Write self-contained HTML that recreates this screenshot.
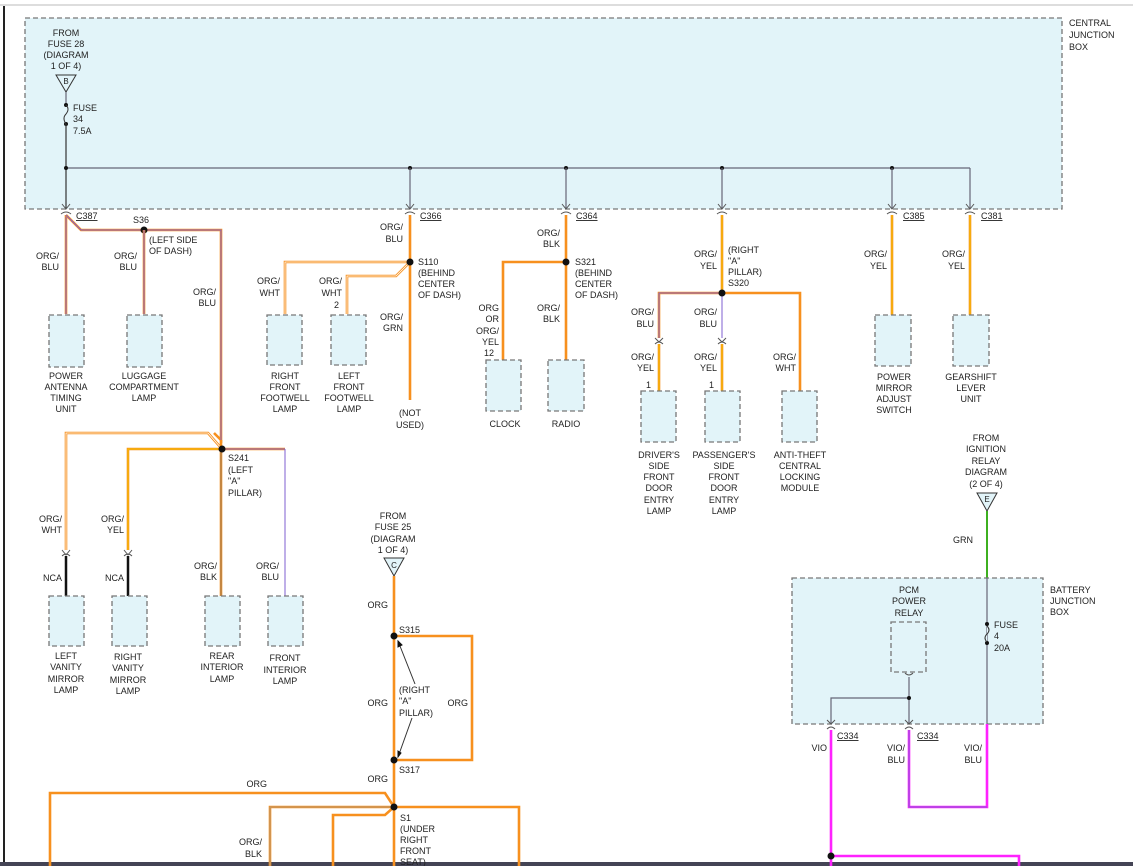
<!DOCTYPE html>
<html><head><meta charset="utf-8"><style>
html,body{margin:0;padding:0;background:#fff;}
svg{display:block;font-family:"Liberation Sans",sans-serif;font-size:9px;}
text{fill:#222;}
.bx{fill:#e2f4f9;stroke:#777;stroke-width:1.3;stroke-dasharray:5,3;}
.o{stroke:#f7901e;stroke-width:2.6;fill:none;}
.y{stroke:#f5c400;stroke-width:1;fill:none;}
.b{stroke:#7f5fd0;stroke-width:1;fill:none;}
.w{stroke:#fff;stroke-width:0.8;fill:none;}
.g{stroke:#667;stroke-width:1.2;fill:none;}
.k{stroke:#111;stroke-width:2.5;fill:none;}
.m{stroke:#ff22ff;stroke-width:2.6;fill:none;}
.c{stroke:#555;stroke-width:1;fill:none;}
</style></head><body>
<svg width="1133" height="866" viewBox="0 0 1133 866">
<line x1="0" y1="5" x2="1133" y2="5" stroke="#ddd" stroke-width="2"/>
<line x1="4" y1="6" x2="4" y2="866" stroke="#222" stroke-width="2"/>
<rect x="0" y="862" width="1133" height="4" fill="#445"/>

<rect class="bx" x="25" y="18" width="1037" height="191"/>
<text x="1069" y="26">CENTRAL</text><text x="1069" y="38">JUNCTION</text><text x="1069" y="50">BOX</text>
<g text-anchor="middle"><text x="66" y="36">FROM</text><text x="66" y="47">FUSE 28</text><text x="66" y="58">(DIAGRAM</text><text x="66" y="69">1 OF 4)</text></g>
<polygon points="56,75 76,75 66,92" fill="#e2f4f9" stroke="#333"/><text x="66" y="84" text-anchor="middle" font-size="8">B</text>
<line class="g" x1="66" y1="92" x2="66" y2="105"/>
<circle cx="66" cy="105" r="2" fill="#111"/><circle cx="66" cy="124" r="2" fill="#111"/>
<path d="M66,105 q4,4 0,9 q-4,4 0,10" stroke="#333" fill="none"/>
<text x="73" y="111">FUSE</text><text x="73" y="122">34</text><text x="73" y="134">7.5A</text>
<line x1="66" y1="124" x2="66" y2="208" stroke="#333" stroke-width="1.2"/>
<line class="g" x1="66" y1="168" x2="970" y2="168"/>
<g fill="#111"><circle cx="66" cy="168" r="2"/><circle cx="410" cy="168" r="2"/><circle cx="566" cy="168" r="2"/><circle cx="722" cy="168" r="2"/><circle cx="892" cy="168" r="2"/></g>
<g class="g"><path d="M410,168V208M566,168V208M722,168V208M892,168V208M970,168V208"/></g>
<g class="c">
<path d="M62,204l4,5l4,-5M406,204l4,5l4,-5M562,204l4,5l4,-5M718,204l4,5l4,-5M888,204l4,5l4,-5M966,204l4,5l4,-5"/>
<path d="M61,214q5,-4 10,0M405,214q5,-4 10,0M561,214q5,-4 10,0M717,214q5,-4 10,0M887,214q5,-4 10,0M965,214q5,-4 10,0"/>
</g>
<text x="76" y="219" text-decoration="underline">C387</text>
<text x="420" y="219" text-decoration="underline">C366</text>
<text x="576" y="219" text-decoration="underline">C364</text>
<text x="903" y="219" text-decoration="underline">C385</text>
<text x="981" y="219" text-decoration="underline">C381</text>

<path class="o" d="M66,215V314"/><path class="b" d="M66,215V314"/>
<path class="o" d="M66,215L81,230H221V440L214,433"/>
<path class="b" d="M66,215L81,230H221V440"/>
<circle cx="144" cy="230" r="3.5" fill="#111"/>
<text x="133" y="223">S36</text>
<text x="149" y="243">(LEFT SIDE</text><text x="149" y="254">OF DASH)</text>
<path class="o" d="M144,230V314"/><path class="b" d="M144,230V314"/>
<g text-anchor="end"><text x="59" y="259">ORG/</text><text x="59" y="270">BLU</text>
<text x="137" y="259">ORG/</text><text x="137" y="270">BLU</text>
<text x="216" y="295">ORG/</text><text x="216" y="306">BLU</text></g>
<rect class="bx" x="49" y="315" width="35" height="52"/>
<rect class="bx" x="127" y="315" width="35" height="52"/>
<g text-anchor="middle"><text x="66" y="379">POWER</text><text x="66" y="390">ANTENNA</text><text x="66" y="401">TIMING</text><text x="66" y="412">UNIT</text>
<text x="144" y="379">LUGGAGE</text><text x="144" y="390">COMPARTMENT</text><text x="144" y="401">LAMP</text></g>

<path class="o" d="M221,440V596"/><path stroke="#777" stroke-width="0.8" fill="none" d="M221,450V596"/>
<path class="o" d="M222,449L208,433H66V550"/><path class="w" d="M222,449L208,433H66V550"/>
<path class="o" d="M222,449H128V550"/><path class="y" d="M222,449H128V550"/>
<path class="o" d="M222,449H285"/><path class="b" stroke-width="2.6" d="M285,449V596"/><path class="b" d="M222,449H285"/>
<circle cx="222" cy="449" r="3.5" fill="#111"/>
<text x="228" y="461">S241</text><text x="228" y="473">(LEFT</text><text x="228" y="484">"A"</text><text x="228" y="496">PILLAR)</text>
<g class="c"><path d="M62,550l4,5l4,-5M62,556q4,-4 8,0M124,550l4,5l4,-5M124,556q4,-4 8,0"/></g>
<path class="k" d="M66,556V596M128,556V596"/>
<g text-anchor="end"><text x="62" y="522">ORG/</text><text x="62" y="533">WHT</text>
<text x="124" y="522">ORG/</text><text x="124" y="533">YEL</text>
<text x="62" y="581">NCA</text><text x="124" y="581">NCA</text>
<text x="217" y="569">ORG/</text><text x="217" y="580">BLK</text>
<text x="279" y="569">ORG/</text><text x="279" y="580">BLU</text></g>
<rect class="bx" x="49" y="596" width="35" height="50"/>
<rect class="bx" x="112" y="596" width="35" height="50"/>
<rect class="bx" x="205" y="596" width="35" height="50"/>
<rect class="bx" x="268" y="596" width="35" height="50"/>
<g text-anchor="middle">
<text x="66" y="659">LEFT</text><text x="66" y="670">VANITY</text><text x="66" y="682">MIRROR</text><text x="66" y="693">LAMP</text>
<text x="128" y="660">RIGHT</text><text x="128" y="671">VANITY</text><text x="128" y="683">MIRROR</text><text x="128" y="694">LAMP</text>
<text x="222" y="659">REAR</text><text x="222" y="670">INTERIOR</text><text x="222" y="682">LAMP</text>
<text x="285" y="661">FRONT</text><text x="285" y="673">INTERIOR</text><text x="285" y="684">LAMP</text></g>

<path class="o" stroke="#9b7fd8" stroke-width="2" d="M410,215V262"/>
<path class="o" d="M410,262H285V314"/><path class="w" d="M410,262H285V314"/>
<path class="o" d="M410,262L396,276H347V314"/><path class="w" d="M410,262L396,276H347V314"/>
<path class="o" stroke="#9bb84a" stroke-width="2" d="M410,262V400"/>
<circle cx="410" cy="262" r="3.5" fill="#111"/>
<text x="418" y="265">S110</text><text x="418" y="276">(BEHIND</text><text x="418" y="287">CENTER</text><text x="418" y="298">OF DASH)</text>
<g text-anchor="end"><text x="403" y="230">ORG/</text><text x="403" y="242">BLU</text>
<text x="280" y="284">ORG/</text><text x="280" y="296">WHT</text>
<text x="342" y="284">ORG/</text><text x="342" y="296">WHT</text><text x="339" y="308">2</text>
<text x="403" y="320">ORG/</text><text x="403" y="331">GRN</text></g>
<rect class="bx" x="267" y="315" width="35" height="50"/>
<rect class="bx" x="331" y="315" width="35" height="50"/>
<g text-anchor="middle">
<text x="285" y="379">RIGHT</text><text x="285" y="390">FRONT</text><text x="285" y="401">FOOTWELL</text><text x="285" y="412">LAMP</text>
<text x="349" y="379">LEFT</text><text x="349" y="390">FRONT</text><text x="349" y="401">FOOTWELL</text><text x="349" y="412">LAMP</text>
<text x="410" y="416">(NOT</text><text x="410" y="428">USED)</text></g>

<path class="o" stroke="#a07040" stroke-width="2" d="M566,215V262"/>
<path class="o" d="M566,262H503V360"/>
<path class="o" stroke="#c96a3a" d="M566,262V360"/>
<circle cx="566" cy="262" r="3.5" fill="#111"/>
<text x="575" y="265">S321</text><text x="575" y="276">(BEHIND</text><text x="575" y="287">CENTER</text><text x="575" y="298">OF DASH)</text>
<g text-anchor="end"><text x="560" y="236">ORG/</text><text x="560" y="247">BLK</text>
<text x="499" y="311">ORG</text><text x="499" y="322">OR</text><text x="499" y="334">ORG/</text><text x="499" y="345">YEL</text><text x="494" y="356">12</text>
<text x="560" y="311">ORG/</text><text x="560" y="322">BLK</text></g>
<rect class="bx" x="486" y="360" width="35" height="51"/>
<rect class="bx" x="548" y="360" width="36" height="51"/>
<text x="505" y="427" text-anchor="middle">CLOCK</text><text x="566" y="427" text-anchor="middle">RADIO</text>

<path class="o" d="M722,215V293"/><path class="y" d="M722,215V293"/>
<path class="o" d="M722,293H659V338"/><path class="b" d="M722,293H659V338"/>
<path class="b" stroke-width="2.6" d="M722,293V338"/>
<path class="o" d="M722,293H800V391"/>
<g class="c"><path d="M655,338l4,4l4,-4M655,344q4,-4 8,0M718,338l4,4l4,-4M718,344q4,-4 8,0"/></g>
<path class="o" d="M659,344V391M722,344V391"/><path class="y" d="M659,344V391M722,344V391"/>
<circle cx="722" cy="293" r="3.5" fill="#111"/>
<text x="728" y="253">(RIGHT</text><text x="728" y="264">"A"</text><text x="728" y="275">PILLAR)</text><text x="728" y="286">S320</text>
<g text-anchor="end"><text x="717" y="257">ORG/</text><text x="717" y="269">YEL</text>
<text x="654" y="315">ORG/</text><text x="654" y="327">BLU</text>
<text x="717" y="315">ORG/</text><text x="717" y="327">BLU</text>
<text x="654" y="360">ORG/</text><text x="654" y="371">YEL</text>
<text x="717" y="360">ORG/</text><text x="717" y="371">YEL</text>
<text x="796" y="360">ORG/</text><text x="796" y="371">WHT</text>
<text x="651" y="388">1</text><text x="714" y="388">1</text></g>
<rect class="bx" x="641" y="391" width="35" height="51"/>
<rect class="bx" x="705" y="391" width="35" height="51"/>
<rect class="bx" x="782" y="391" width="35" height="51"/>
<g text-anchor="middle">
<text x="659" y="458">DRIVER'S</text><text x="659" y="469">SIDE</text><text x="659" y="480">FRONT</text><text x="659" y="491">DOOR</text><text x="659" y="503">ENTRY</text><text x="659" y="514">LAMP</text>
<text x="724" y="458">PASSENGER'S</text><text x="724" y="469">SIDE</text><text x="724" y="480">FRONT</text><text x="724" y="491">DOOR</text><text x="724" y="503">ENTRY</text><text x="724" y="514">LAMP</text>
<text x="800" y="458">ANTI-THEFT</text><text x="800" y="469">CENTRAL</text><text x="800" y="480">LOCKING</text><text x="800" y="491">MODULE</text></g>

<path class="o" d="M892,215V315M970,215V315"/><path class="y" d="M892,215V315M970,215V315"/>
<g text-anchor="end"><text x="887" y="257">ORG/</text><text x="887" y="269">YEL</text>
<text x="965" y="257">ORG/</text><text x="965" y="269">YEL</text></g>
<rect class="bx" x="875" y="315" width="36" height="51"/>
<rect class="bx" x="953" y="315" width="36" height="51"/>
<g text-anchor="middle">
<text x="894" y="380">POWER</text><text x="894" y="391">MIRROR</text><text x="894" y="402">ADJUST</text><text x="894" y="413">SWITCH</text>
<text x="971" y="380">GEARSHIFT</text><text x="971" y="391">LEVER</text><text x="971" y="402">UNIT</text>
<text x="986" y="441">FROM</text><text x="986" y="452">IGNITION</text><text x="986" y="464">RELAY</text><text x="986" y="475">DIAGRAM</text><text x="986" y="487">(2 OF 4)</text></g>
<polygon points="977,493 997,493 987,511" fill="#e2f4f9" stroke="#333"/><text x="987" y="502" text-anchor="middle" font-size="8">E</text>

<path stroke="#3db020" stroke-width="2" d="M987,511V578"/>
<text x="973" y="543" text-anchor="end">GRN</text>
<rect class="bx" x="792" y="578" width="251" height="146"/>
<text x="1050" y="593">BATTERY</text><text x="1050" y="604">JUNCTION</text><text x="1050" y="615">BOX</text>
<line class="g" x1="987" y1="578" x2="987" y2="724"/>
<circle cx="987" cy="624" r="2" fill="#111"/><circle cx="987" cy="643" r="2" fill="#111"/>
<path d="M987,626 q4,4 0,8 q-4,4 0,8" stroke="#333" fill="#e2f4f9"/>
<text x="994" y="628">FUSE</text><text x="994" y="639">4</text><text x="994" y="651">20A</text>
<g text-anchor="middle"><text x="909" y="593">PCM</text><text x="909" y="604">POWER</text><text x="909" y="616">RELAY</text></g>
<rect class="bx" x="891" y="622" width="35" height="50"/>
<path class="g" d="M909,677V724M909,698H831V724"/>
<circle cx="909" cy="698" r="2" fill="#111"/>
<g class="c"><path d="M905,673q4,4 8,0M827,720l4,4l4,-4M905,720l4,4l4,-4M827,729q4,-4 8,0M905,729q4,-4 8,0"/></g>
<text x="837" y="739" text-decoration="underline">C334</text><text x="917" y="739" text-decoration="underline">C334</text>
<path class="m" d="M909,730V807H987V724"/><path class="b" d="M909,730V807H987"/>
<path class="m" d="M831,730V866M831,856H1019V866"/>
<circle cx="831" cy="856" r="3.5" fill="#111"/>
<g text-anchor="end"><text x="827" y="751">VIO</text>
<text x="905" y="751">VIO/</text><text x="905" y="763">BLU</text>
<text x="982" y="751">VIO/</text><text x="982" y="763">BLU</text></g>

<g text-anchor="middle"><text x="393" y="519">FROM</text><text x="393" y="530">FUSE 25</text><text x="393" y="542">(DIAGRAM</text><text x="393" y="553">1 OF 4)</text></g>
<polygon points="384,558 404,558 394,576" fill="#e2f4f9" stroke="#333"/><text x="394" y="568" text-anchor="middle" font-size="8">C</text>
<path class="o" d="M394,576V866"/>
<path class="o" d="M394,636H472V760H394"/>
<path class="o" d="M50,866V793H385L394,807H519V866"/>
<path class="o" d="M394,807H270V866"/><path stroke="#999" stroke-width="0.8" fill="none" d="M394,807H270V866"/>
<path class="o" d="M394,807L385,815H333V866"/>
<circle cx="394" cy="636" r="3.5" fill="#111"/><circle cx="394" cy="760" r="3.5" fill="#111"/><circle cx="394" cy="807" r="3.5" fill="#111"/>
<text x="399" y="633">S315</text><text x="399" y="773">S317</text>
<text x="400" y="821">S1</text><text x="400" y="832">(UNDER</text><text x="400" y="843">RIGHT</text><text x="400" y="854">FRONT</text><text x="400" y="865">SEAT)</text>
<text x="399" y="693">(RIGHT</text><text x="399" y="704">"A"</text><text x="399" y="716">PILLAR)</text>
<path d="M415,684L398,641M412,718L398,757" stroke="#333" fill="none"/>
<path d="M398,641l0,6l4,-2zM398,757l0,-6l3,2z" fill="#111" stroke="#111"/>
<g text-anchor="end"><text x="388" y="608">ORG</text><text x="388" y="706">ORG</text><text x="468" y="706">ORG</text>
<text x="388" y="782">ORG</text><text x="267" y="787">ORG</text>
<text x="262" y="845">ORG/</text><text x="262" y="857">BLK</text></g>
</svg>
</body></html>
